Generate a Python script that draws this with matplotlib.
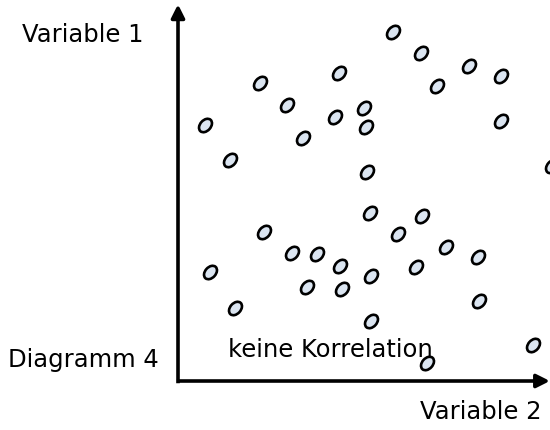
import matplotlib
matplotlib.use('Agg')
import matplotlib.pyplot as plt
from matplotlib.path import Path
from matplotlib.markers import MarkerStyle
from matplotlib.transforms import Affine2D

# --- data (Variable 2 on x, Variable 1 on y, arbitrary units 0..10) ---
var2 = [5.78, 6.53, 7.82, 8.68, 6.96, 4.33, 2.20, 2.93, 5.00, 4.22,
        5.05, 0.73, 3.36, 8.68, 1.40, 5.08, 10.05, 5.16, 6.56, 2.31,
        5.91, 7.20, 3.06, 3.74, 8.06, 4.35, 6.40, 0.86, 5.19, 3.47,
        4.41, 8.09, 1.53, 5.19, 9.54, 6.69]
var1 = [9.36, 8.79, 8.45, 8.18, 7.91, 8.26, 7.99, 7.40, 7.32, 7.08,
        6.81, 6.86, 6.51, 6.97, 5.92, 5.60, 5.76, 4.50, 4.42, 3.99,
        3.94, 3.59, 3.43, 3.40, 3.32, 3.08, 3.06, 2.92, 2.82, 2.52,
        2.47, 2.14, 1.96, 1.61, 0.97, 0.48]

label_y = 'Variable 1'
label_x = 'Variable 2'
title = 'Diagramm 4'
note = 'keine Korrelation'

fig = plt.figure(figsize=(5.5, 4.3), dpi=100)
ax = fig.add_axes([178 / 550, 49 / 430, 372 / 550, 373 / 430])
ax.set_xlim(0, 10)
ax.set_ylim(0, 10)
ax.axis('off')

# schraeg gestellte Ellipse als Marker
circ = Path.unit_circle()
ell = Affine2D().scale(1.0, 0.7).rotate_deg(48).transform_path(circ)
marker = MarkerStyle(ell)

ax.scatter(var2, var1, marker=marker, s=100, facecolor='#dbe5f1',
           edgecolor='black', linewidths=1.9, zorder=3, clip_on=False)

# Achsenpfeile
arrow = dict(arrowstyle='-|>', lw=2.6, color='black', mutation_scale=20,
             shrinkA=0, shrinkB=0, capstyle='butt')
ax.annotate('', xy=(0, 1.01), xytext=(0, -0.006), xycoords='axes fraction',
            textcoords='axes fraction', arrowprops=arrow, annotation_clip=False)
ax.annotate('', xy=(1.0, 0), xytext=(-0.003, 0), xycoords='axes fraction',
            textcoords='axes fraction', arrowprops=arrow, annotation_clip=False)

fs = 17.5
fig.text(22 / 550, 1 - 35 / 430, label_y, fontsize=fs, ha='left', va='center')
fig.text(541 / 550, 1 - 412 / 430, label_x, fontsize=fs, ha='right', va='center')
fig.text(8 / 550, 1 - 360 / 430, title, fontsize=fs, ha='left', va='center')
fig.text(228 / 550, 1 - 350 / 430, note, fontsize=fs, ha='left', va='center',
         zorder=1)

fig.savefig('out.png', dpi=100)
